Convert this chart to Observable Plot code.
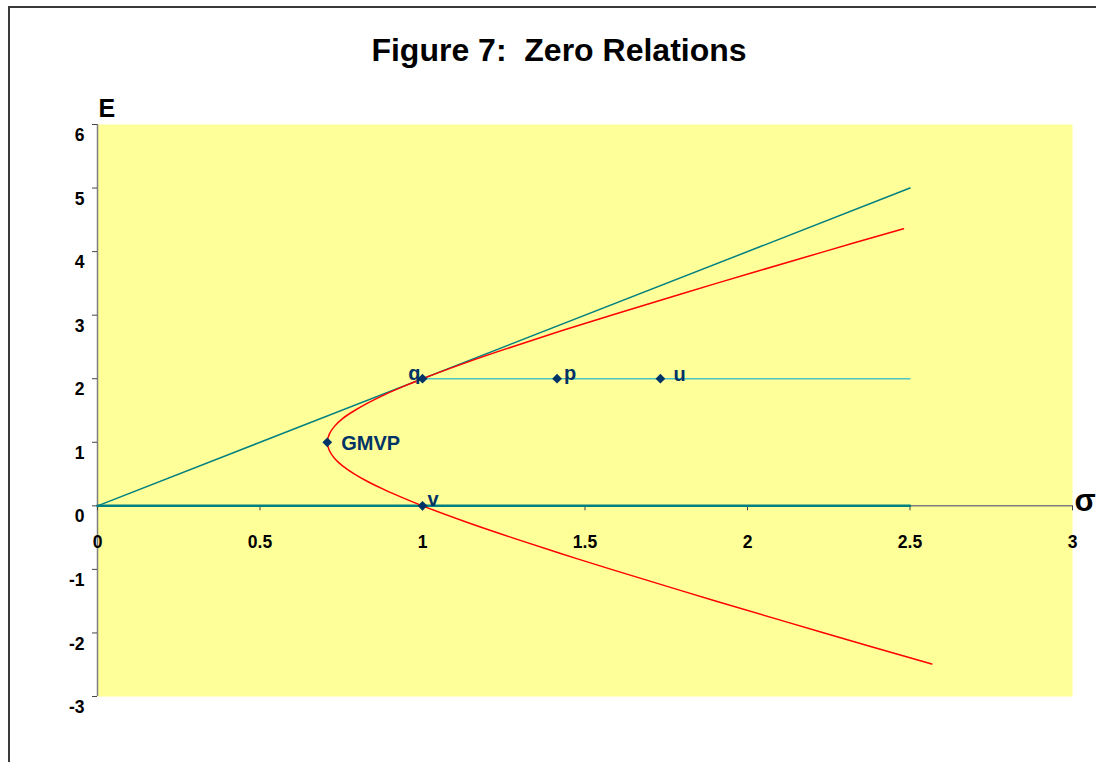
<!DOCTYPE html>
<html>
<head>
<meta charset="utf-8">
<script src="https://cdn.jsdelivr.net/npm/d3@7"></script>
<script src="https://cdn.jsdelivr.net/npm/@observablehq/plot@0.6"></script>
<style>
  html, body { margin: 0; padding: 0; background: #fff; overflow: hidden; }
  #wrap { position: relative; width: 1096px; height: 762px; font-family: Arial, "Liberation Sans", sans-serif; }
  #border { position: absolute; left: 8px; top: 6px; width: 2000px; height: 2000px; border-left: 2px solid #3a3a3a; border-top: 2px solid #3a3a3a; }
  #title { position: absolute; left: 0; width: 1118px; top: 34px; text-align: center; font-size: 32px; line-height: 32px; font-weight: bold; white-space: pre; color: #000; }
  #chart { position: absolute; left: 0; top: 90px; }
  #chart svg { font-family: Arial, "Liberation Sans", sans-serif; overflow: visible; }
</style>
</head>
<body>
<div id="wrap">
  <div id="border"></div>
  <div id="title">Figure 7:  Zero Relations</div>
  <div id="chart"></div>
</div>
<script>
// Axis ticks
const xTickValues = [0, 0.5, 1, 1.5, 2, 2.5, 3];
const xTickLabels = ["0", "0.5", "1", "1.5", "2", "2.5", "3"];
const yTickValues = [-3, -2, -1, 0, 1, 2, 3, 4, 5, 6];
const yTickLabels = ["-3", "-2", "-1", "0", "1", "2", "3", "4", "5", "6"];

// Efficient frontier (red)
const frontierSigma = [2.48, 2.236, 1.904, 1.581, 1.425, 1.275, 1.132, 1.0, 0.940, 0.884, 0.834, 0.791, 0.755, 0.729, 0.713, 0.707, 0.713, 0.729, 0.755, 0.791, 0.834, 0.884, 0.940, 1.0, 1.132, 1.275, 1.425, 1.581, 1.904, 2.236, 2.567];
const frontierE     = [4.36, 4.0, 3.5, 3.0, 2.75, 2.5, 2.25, 2.0, 1.875, 1.75, 1.625, 1.5, 1.375, 1.25, 1.125, 1.0, 0.875, 0.75, 0.625, 0.5, 0.375, 0.25, 0.125, 0.0, -0.25, -0.5, -0.75, -1.0, -1.5, -2.0, -2.49];

// Tangent line from origin
const tangentSigma = [0, 2.5];
const tangentE = [0, 5];
// Horizontal line through q, p, u
const levelSigma = [1, 2.5];
const levelE = [2, 2];
// Zero-return line
const zeroSigma = [0, 2.5];
const zeroE = [0, 0];

// Labelled points
const pointNames = ["q", "p", "u", "GMVP", "v"];
const pointSigma = [1.0, 1.414, 1.732, 0.707, 1.0];
const pointE = [2, 2, 2, 1, 0];

const toRows = (xs, ys) => xs.map((s, i) => ({s, e: ys[i]}));
const frontier = toRows(frontierSigma, frontierE);
const tangent = toRows(tangentSigma, tangentE);
const level = toRows(levelSigma, levelE);
const zero = toRows(zeroSigma, zeroE);
const points = pointNames.map((name, i) => ({name, s: pointSigma[i], e: pointE[i]}));

const navy = "#003366";
const labelFont = {fontSize: 20, fontWeight: "bold", fill: navy};
const pick = (n) => points.filter(d => d.name === n);

const chart = Plot.plot({
  width: 1096,
  height: 672,
  marginLeft: 97,
  marginRight: 24,
  marginTop: 34,
  marginBottom: 66,
  x: {domain: [0, 3], axis: null},
  y: {domain: [-3, 6], axis: null},
  marks: [
    Plot.frame({fill: "#FFFF99", stroke: null}),
    // axes lines
    Plot.ruleY([0], {stroke: "#7f7f7f", strokeWidth: 1.5}),
    Plot.ruleX([0], {stroke: "#7f7f7f", strokeWidth: 1.5}),
    // x ticks and labels (axis crosses at E = 0)
    Plot.ruleX(xTickValues, {x: d => d, y1: 0, y2: 0, insetBottom: -5, stroke: "#444", strokeWidth: 1}),
    Plot.text(xTickValues, {x: d => d, y: 0, dy: 37, text: (d, i) => xTickLabels[i], fontSize: 17.5, fontWeight: "bold", fill: "#000"}),
    // y ticks and labels
    Plot.ruleY(yTickValues, {y: d => d, x1: 0, x2: 0, insetLeft: -5, stroke: "#444", strokeWidth: 1}),
    Plot.text(yTickValues, {x: 0, y: d => d, dx: -13, dy: 11, textAnchor: "end", text: (d, i) => yTickLabels[i], fontSize: 17.5, fontWeight: "bold", fill: "#000"}),
    // axis titles
    Plot.text(["E"], {frameAnchor: "top-left", lineAnchor: "middle", dx: 1, dy: -16, textAnchor: "start", text: d => d, fontSize: 25, fontWeight: "bold", fill: "#000"}),
    Plot.text(["σ"], {x: 3, y: 0, dx: 2, dy: -5, textAnchor: "start", text: d => d, fontSize: 31, fontWeight: "bold", fill: "#000"}),
    // lines
    Plot.line(zero, {x: "s", y: "e", stroke: "#008080", strokeWidth: 2.5}),
    Plot.line(level, {x: "s", y: "e", stroke: "#4fc3c3", strokeWidth: 1.5}),
    Plot.line(tangent, {x: "s", y: "e", stroke: "#008080", strokeWidth: 1.5}),
    Plot.line(frontier, {x: "s", y: "e", stroke: "#ff0000", strokeWidth: 1.5, curve: "catmull-rom"}),
    // points
    Plot.dot(points, {x: "s", y: "e", symbol: "diamond2", r: 4.4, fill: navy, stroke: null}),
    // point labels
    Plot.text(pick("q"), {x: "s", y: "e", text: "name", textAnchor: "end", dx: -2, dy: -5, ...labelFont}),
    Plot.text(pick("p"), {x: "s", y: "e", text: "name", textAnchor: "start", dx: 7, dy: -5, ...labelFont}),
    Plot.text(pick("u"), {x: "s", y: "e", text: "name", textAnchor: "start", dx: 13, dy: -4, ...labelFont}),
    Plot.text(pick("GMVP"), {x: "s", y: "e", text: "name", textAnchor: "start", dx: 14, dy: 1, ...labelFont}),
    Plot.text(pick("v"), {x: "s", y: "e", text: "name", textAnchor: "start", dx: 5, dy: -6.5, ...labelFont})
  ]
});
document.getElementById("chart").appendChild(chart);
</script>
</body>
</html>
